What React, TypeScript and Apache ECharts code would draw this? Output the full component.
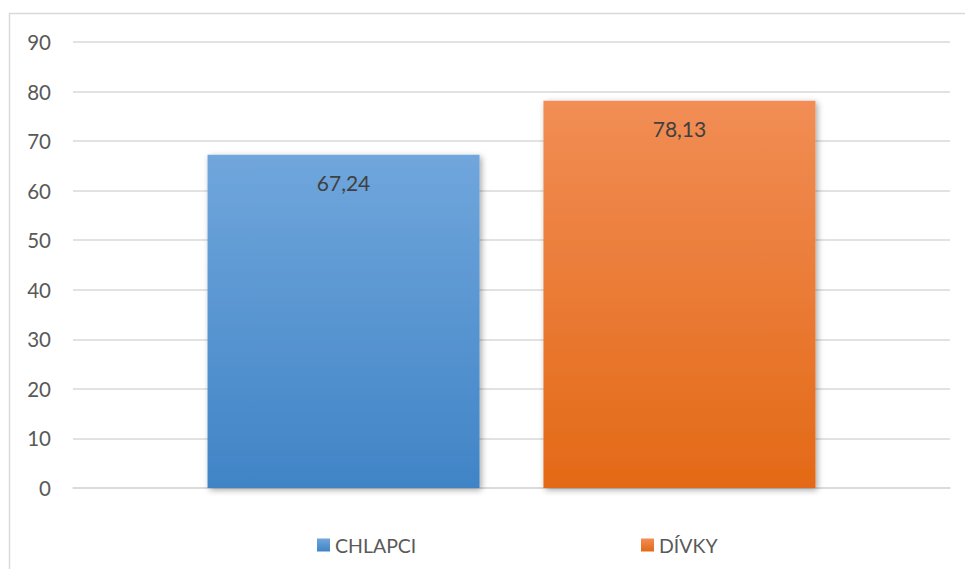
import React, { useEffect, useRef } from "react";
import * as echarts from "echarts";

const categories = ["Skupina"];
const seriesNames = ["CHLAPCI", "DÍVKY"];
const chlapciValues = [67.24];
const divkyValues = [78.13];
const yTicks = { min: 0, max: 90, interval: 10 };

const FONT = "Lato, 'Open Sans', sans-serif";

export default function App() {
  const ref = useRef<HTMLDivElement>(null);
  useEffect(() => {
    if (!ref.current) return;
    const chart = echarts.init(ref.current, undefined, { renderer: "svg" });
    const grad = (top: string, bottom: string) =>
      new echarts.graphic.LinearGradient(0, 0, 0, 1, [
        { offset: 0, color: top },
        { offset: 1, color: bottom },
      ]);
    const fmt = (p: any) => String(p.value).replace(".", ",");
    const label = {
      show: true,
      position: "insideTop",
      distance: 17,
      color: "#404040",
      fontSize: 21,
      fontFamily: FONT,
      formatter: fmt,
    };
    const shadow = {
      shadowBlur: 6,
      shadowColor: "rgba(0,0,0,0.35)",
      shadowOffsetX: 2,
      shadowOffsetY: 2,
    };
    const legendText = { color: "#595959", fontSize: 19.5, fontFamily: FONT };
    chart.setOption({
      animation: false,
      backgroundColor: "#ffffff",
      textStyle: { fontFamily: FONT },
      graphic: [
        {
          type: "rect",
          shape: { x: 9.5, y: 13.5, width: 1000, height: 700 },
          style: { fill: "none", stroke: "#d9d9d9", lineWidth: 1.5 },
          silent: true,
          z: -1,
        },
      ],
      legend: [
        {
          data: [seriesNames[0]],
          left: 312,
          top: 530,
          itemWidth: 13,
          itemHeight: 13,
          itemGap: 6,
          icon: "rect",
          textStyle: legendText,
        },
        {
          data: [seriesNames[1]],
          left: 636,
          top: 530,
          itemWidth: 13,
          itemHeight: 13,
          itemGap: 6,
          icon: "rect",
          textStyle: legendText,
        },
      ],
      grid: { left: 73, right: 15, top: 42, bottom: 81, containLabel: false },
      xAxis: {
        type: "category",
        data: categories,
        axisLabel: { show: false },
        axisTick: { show: false },
        axisLine: { lineStyle: { color: "#d9d9d9", width: 1.5 } },
      },
      yAxis: {
        type: "value",
        min: yTicks.min,
        max: yTicks.max,
        interval: yTicks.interval,
        axisLine: { show: false },
        axisTick: { show: false },
        axisLabel: { color: "#595959", fontSize: 20.5, fontFamily: FONT, margin: 22 },
        splitLine: { lineStyle: { color: "#d9d9d9", width: 1.5 } },
      },
      series: [
        {
          name: seriesNames[0],
          type: "bar",
          data: chlapciValues,
          barWidth: 272,
          barGap: "23.5%",
          itemStyle: { color: grad("#70a6dc", "#4084c6"), ...shadow },
          label,
        },
        {
          name: seriesNames[1],
          type: "bar",
          data: divkyValues,
          barWidth: 272,
          barGap: "23.5%",
          itemStyle: { color: grad("#f18d55", "#e36916"), ...shadow },
          label,
        },
      ],
    });
    return () => chart.dispose();
  }, []);
  return (
    <div
      ref={ref}
      style={{ position: "absolute", left: 0, top: 0, width: 965, height: 569 }}
    />
  );
}
